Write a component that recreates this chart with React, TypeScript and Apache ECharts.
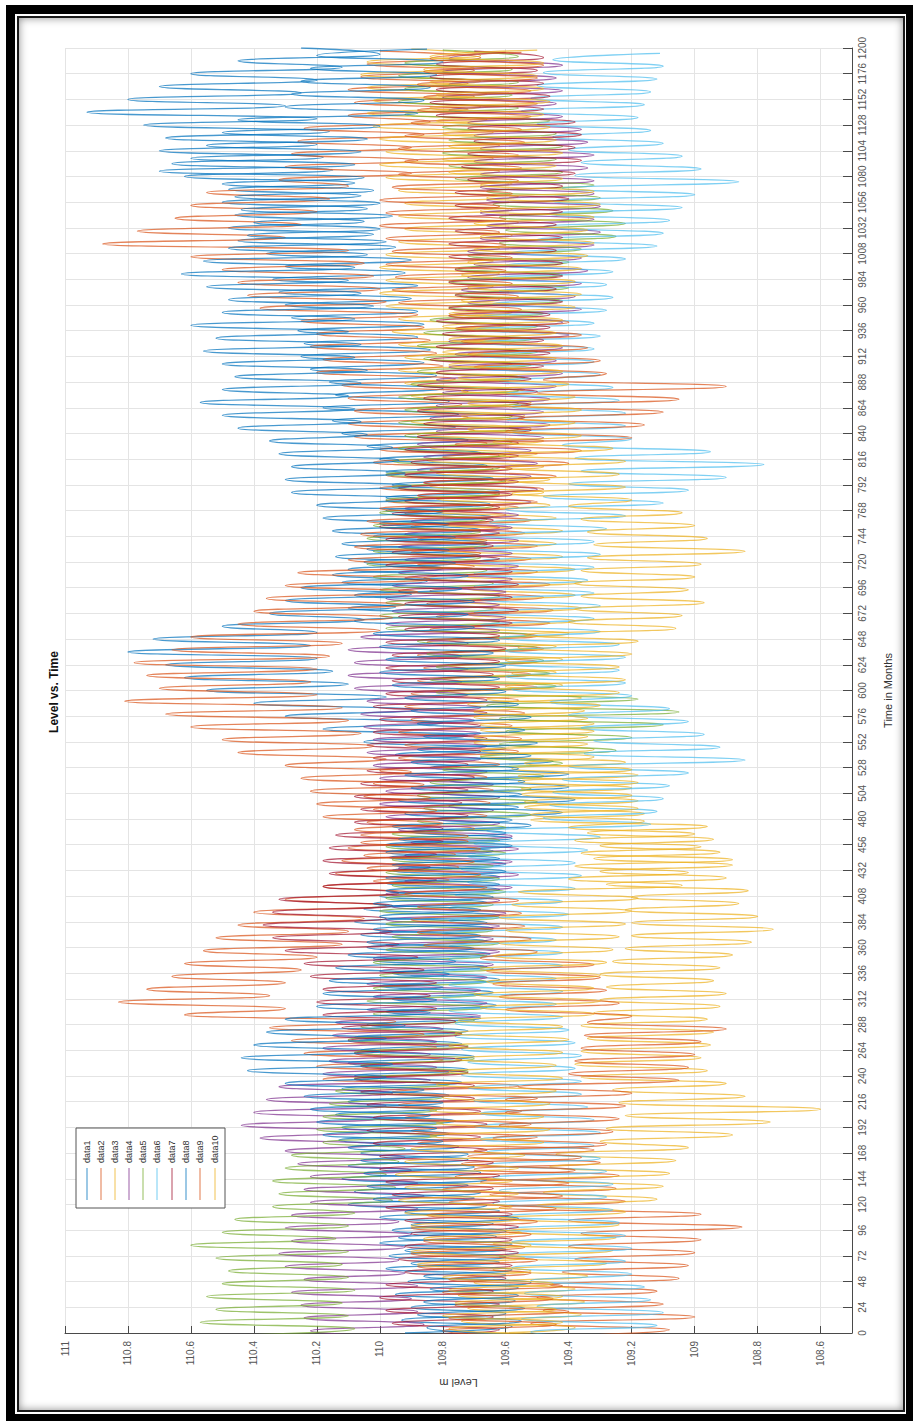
import React, { useEffect, useRef } from "react";
import * as echarts from "echarts";

// Sampling grid: one value every 6 months (alternating seasonal high / low)
const months: number[] = Array.from({ length: 201 }, (_, i) => i * 6);

const seriesNames = ["data1", "data2", "data3", "data4", "data5", "data6", "data7", "data8", "data9", "data10"];
const seriesColors = ["#0072BD", "#D95319", "#EDB120", "#7E2F8E", "#77AC30", "#4DBEEE", "#A2142F", "#0072BD", "#D95319", "#EDB120"];
// Seasonal timing of each record, in months
const seriesPhase = [0, -3, -1, -4, -2, -5, -3, -1, -4, -2];

const levelTicks = [108.6, 108.8, 109, 109.2, 109.4, 109.6, 109.8, 110, 110.2, 110.4, 110.6, 110.8, 111];

const data1 = [
  109.92, 109.58, 109.93, 109.6, 109.9, 109.57, 109.95, 109.56, 109.91, 109.6,
  109.98, 109.62, 109.97, 109.6, 110.0, 109.63, 109.96, 109.64, 110.0, 109.62,
  110.1, 109.7, 110.08, 109.72, 110.12, 109.68, 110.1, 109.72, 110.06, 109.75,
  110.13, 109.78, 110.12, 109.76, 110.14, 109.8, 110.1, 109.78, 110.12, 109.74,
  110.08, 109.72, 110.1, 109.7, 110.06, 109.74, 110.08, 109.72, 110.04, 109.68,
  109.98, 109.63, 109.96, 109.64, 110.0, 109.62, 109.96, 109.66, 110.02, 109.65,
  110.04, 109.66, 110.06, 109.64, 110.08, 109.62, 110.05, 109.66, 110.0, 109.62,
  109.98, 109.62, 109.96, 109.6, 109.97, 109.64, 109.98, 109.58, 109.9, 109.52,
  109.82, 109.42, 109.78, 109.38, 109.8, 109.4, 109.78, 109.4, 109.84, 109.45,
  109.95, 109.6, 110.05, 109.72, 110.18, 109.8, 110.3, 109.88, 110.4, 109.98,
  110.55, 110.1, 110.62, 110.15, 110.68, 110.2, 110.8, 110.22, 110.72, 110.2,
  110.5, 110.05, 110.35, 109.95, 110.3, 109.9, 110.25, 109.85, 110.15, 109.8,
  110.05, 109.68, 110.04, 109.66, 110.02, 109.68, 110.0, 109.64, 109.98, 109.65,
  109.98, 109.62, 109.96, 109.64, 109.98, 109.66, 110.0, 109.68, 110.04, 109.72,
  110.12, 109.76, 110.15, 109.75, 110.18, 109.78, 110.14, 109.8, 110.16, 109.82,
  110.22, 109.86, 110.25, 109.84, 110.24, 109.88, 110.26, 109.86, 110.28, 109.88,
  110.3, 109.9, 110.32, 109.88, 110.34, 109.92, 110.3, 109.9, 110.36, 109.95,
  110.45, 110.02, 110.48, 110.05, 110.46, 110.04, 110.5, 110.06, 110.48, 110.08,
  110.62, 110.15, 110.66, 110.18, 110.7, 110.2, 110.68, 110.16, 110.75, 110.2,
  110.93, 110.3, 110.8, 110.25, 110.7, 110.2, 110.6, 110.12, 110.45, 110.0,
  110.25,
];

const data2 = [
  109.5, 109.08, 109.52, 109.0, 109.48, 109.1, 109.5, 109.12, 109.46, 109.05,
  109.42, 109.02, 109.38, 109.0, 109.4, 108.98, 109.36, 108.85, 109.4, 108.98,
  109.62, 109.22, 109.65, 109.25, 109.68, 109.24, 109.7, 109.3, 109.72, 109.32,
  109.88, 109.5, 109.9, 109.52, 109.92, 109.55, 109.94, 109.5, 109.96, 109.56,
  110.18, 109.78, 110.2, 109.8, 110.24, 109.82, 110.28, 109.86, 110.35, 109.95,
  110.62, 110.3, 110.83, 110.35, 110.74, 110.3, 110.66, 110.25, 110.62, 110.2,
  110.56, 110.12, 110.52, 110.1, 110.45, 110.05, 110.4, 109.98, 110.3, 109.9,
  110.18, 109.78, 110.14, 109.75, 110.12, 109.76, 110.1, 109.72, 110.06, 109.7,
  110.04, 109.66, 110.02, 109.65, 110.05, 109.64, 110.02, 109.66, 110.0, 109.62,
  109.94, 109.56, 109.92, 109.55, 109.94, 109.58, 109.9, 109.54, 109.92, 109.56,
  109.9, 109.5, 109.88, 109.52, 109.86, 109.5, 109.88, 109.48, 109.85, 109.5,
  109.84, 109.46, 109.82, 109.45, 109.85, 109.48, 109.84, 109.46, 109.86, 109.5,
  109.88, 109.52, 109.9, 109.5, 109.88, 109.54, 109.9, 109.52, 109.92, 109.56,
  109.98, 109.62, 110.0, 109.6, 109.98, 109.64, 110.02, 109.62, 110.0, 109.66,
  110.08, 109.7, 110.1, 109.72, 110.08, 109.74, 110.1, 109.72, 110.12, 109.76,
  110.2, 109.8, 110.18, 109.82, 110.22, 109.84, 110.2, 109.86, 110.25, 109.88,
  110.38, 109.98, 110.42, 110.0, 110.45, 110.02, 110.5, 110.05, 110.6, 110.1,
  110.88, 110.3, 110.77, 110.25, 110.65, 110.2, 110.6, 110.16, 110.55, 110.1,
  110.32, 109.9, 110.3, 109.88, 110.28, 109.9, 110.26, 109.86, 110.24, 109.84,
  110.1, 109.72, 110.08, 109.7, 110.1, 109.72, 110.06, 109.7, 110.04, 109.68,
  110.0,
];

const data3 = [
  109.72, 109.38, 109.74, 109.36, 109.72, 109.35, 109.75, 109.38, 109.7, 109.34,
  109.64, 109.28, 109.62, 109.26, 109.64, 109.25, 109.6, 109.24, 109.62, 109.22,
  109.5, 109.12, 109.48, 109.1, 109.5, 109.08, 109.46, 109.06, 109.44, 109.02,
  109.3, 108.88, 109.28, 108.76, 109.22, 108.6, 109.24, 108.84, 109.26, 108.9,
  109.36, 108.96, 109.38, 108.98, 109.36, 108.95, 109.34, 108.94, 109.36, 108.96,
  109.32, 108.92, 109.3, 108.9, 109.28, 108.94, 109.3, 108.92, 109.26, 108.88,
  109.22, 108.82, 109.2, 108.75, 109.2, 108.8, 109.22, 108.86, 109.2, 108.83,
  109.28, 108.9, 109.3, 108.88, 109.32, 108.92, 109.3, 108.94, 109.34, 108.96,
  109.52, 109.16, 109.54, 109.18, 109.55, 109.2, 109.56, 109.18, 109.58, 109.22,
  109.68, 109.32, 109.7, 109.34, 109.68, 109.32, 109.7, 109.35, 109.72, 109.36,
  109.78, 109.42, 109.8, 109.44, 109.78, 109.42, 109.8, 109.44, 109.78, 109.4,
  109.74, 109.38, 109.72, 109.36, 109.74, 109.38, 109.72, 109.36, 109.74, 109.38,
  109.78, 109.42, 109.8, 109.44, 109.78, 109.42, 109.8, 109.44, 109.82, 109.46,
  109.82, 109.48, 109.84, 109.46, 109.82, 109.48, 109.85, 109.5, 109.84, 109.48,
  109.88, 109.52, 109.9, 109.54, 109.88, 109.52, 109.9, 109.54, 109.92, 109.56,
  109.94, 109.58, 109.92, 109.56, 109.94, 109.58, 109.96, 109.6, 109.94, 109.58,
  109.98, 109.62, 110.0, 109.64, 109.98, 109.62, 110.0, 109.64, 109.98, 109.62,
  109.94, 109.58, 109.92, 109.56, 109.94, 109.58, 109.92, 109.56, 109.94, 109.58,
  109.98, 109.62, 110.0, 109.64, 109.98, 109.62, 110.0, 109.64, 110.02, 109.66,
  110.04, 109.68, 110.02, 109.66, 110.04, 109.68, 110.06, 109.7, 110.04, 109.68,
  109.9,
];

const data4 = [
  109.88, 110.22, 109.86, 110.24, 109.88, 110.25, 109.9, 110.28, 109.88, 110.24,
  109.92, 110.3, 109.94, 110.32, 109.92, 110.28, 109.9, 110.3, 109.94, 110.28,
  109.88, 110.22, 109.86, 110.24, 109.88, 110.22, 109.9, 110.26, 109.92, 110.3,
  110.0, 110.38, 110.02, 110.44, 110.0, 110.4, 109.98, 110.36, 109.96, 110.32,
  109.84, 110.18, 109.82, 110.16, 109.84, 110.18, 109.82, 110.15, 109.8, 110.14,
  109.68, 110.04, 109.66, 110.02, 109.68, 110.04, 109.66, 110.0, 109.64, 110.02,
  109.62, 109.98, 109.64, 110.0, 109.62, 109.98, 109.6, 109.96, 109.62, 109.98,
  109.58, 109.92, 109.56, 109.94, 109.58, 109.92, 109.56, 109.9, 109.58, 109.94,
  109.62, 109.98, 109.64, 110.0, 109.62, 109.98, 109.64, 110.0, 109.66, 110.02,
  109.68, 110.04, 109.66, 110.02, 109.68, 110.05, 109.7, 110.06, 109.68, 110.04,
  109.72, 110.08, 109.74, 110.1, 109.72, 110.08, 109.74, 110.1, 109.72, 110.06,
  109.62, 109.98, 109.6, 109.96, 109.62, 109.98, 109.6, 109.96, 109.58, 109.94,
  109.56, 109.92, 109.58, 109.94, 109.56, 109.92, 109.58, 109.9, 109.56, 109.92,
  109.52, 109.88, 109.5, 109.86, 109.52, 109.88, 109.5, 109.86, 109.52, 109.88,
  109.48, 109.82, 109.46, 109.84, 109.48, 109.82, 109.46, 109.8, 109.44, 109.82,
  109.42, 109.78, 109.44, 109.76, 109.42, 109.78, 109.4, 109.76, 109.42, 109.78,
  109.36, 109.72, 109.38, 109.74, 109.36, 109.72, 109.34, 109.7, 109.36, 109.72,
  109.32, 109.68, 109.3, 109.66, 109.32, 109.68, 109.3, 109.66, 109.32, 109.68,
  109.32, 109.68, 109.34, 109.7, 109.32, 109.68, 109.34, 109.7, 109.36, 109.72,
  109.42, 109.78, 109.44, 109.8, 109.42, 109.78, 109.44, 109.8, 109.42, 109.78,
  109.6,
];

const data5 = [
  110.45, 110.08, 110.57, 110.1, 110.52, 110.12, 110.55, 110.08, 110.5, 110.1,
  110.48, 110.12, 110.52, 110.1, 110.6, 110.14, 110.5, 110.1, 110.46, 110.08,
  110.34, 109.96, 110.32, 109.95, 110.34, 109.98, 110.3, 109.94, 110.28, 109.92,
  110.18, 109.82, 110.2, 109.8, 110.18, 109.82, 110.16, 109.8, 110.14, 109.78,
  110.08, 109.72, 110.06, 109.7, 110.08, 109.72, 110.1, 109.74, 110.06, 109.7,
  110.02, 109.66, 110.04, 109.68, 110.02, 109.66, 110.0, 109.64, 110.02, 109.66,
  109.98, 109.62, 109.96, 109.64, 109.98, 109.62, 110.0, 109.64, 109.98, 109.6,
  109.96, 109.62, 109.98, 109.64, 109.96, 109.6, 109.98, 109.62, 109.96, 109.6,
  109.88, 109.52, 109.86, 109.5, 109.88, 109.52, 109.84, 109.48, 109.8, 109.42,
  109.68, 109.25, 109.62, 109.2, 109.6, 109.1, 109.62, 109.05, 109.66, 109.18,
  109.82, 109.44, 109.84, 109.46, 109.82, 109.48, 109.85, 109.5, 109.88, 109.52,
  109.98, 109.62, 110.0, 109.64, 109.98, 109.62, 110.0, 109.64, 110.02, 109.66,
  110.04, 109.68, 110.02, 109.66, 110.04, 109.68, 110.02, 109.66, 110.0, 109.64,
  109.98, 109.62, 109.96, 109.6, 109.98, 109.62, 109.96, 109.6, 109.94, 109.58,
  109.92, 109.56, 109.94, 109.58, 109.92, 109.56, 109.94, 109.56, 109.9, 109.54,
  109.88, 109.52, 109.86, 109.5, 109.88, 109.52, 109.86, 109.5, 109.84, 109.48,
  109.78, 109.42, 109.76, 109.4, 109.78, 109.42, 109.76, 109.4, 109.72, 109.36,
  109.62, 109.25, 109.6, 109.22, 109.62, 109.26, 109.64, 109.3, 109.66, 109.32,
  109.76, 109.42, 109.78, 109.44, 109.8, 109.42, 109.78, 109.44, 109.8, 109.46,
  109.92, 109.56, 109.94, 109.58, 109.92, 109.56, 109.94, 109.58, 109.92, 109.56,
  109.8,
];

const data6 = [
  109.15, 109.52, 109.12, 109.55, 109.1, 109.5, 109.14, 109.54, 109.16, 109.52,
  109.2, 109.58, 109.22, 109.6, 109.2, 109.58, 109.22, 109.6, 109.24, 109.6,
  109.26, 109.64, 109.28, 109.62, 109.26, 109.64, 109.28, 109.66, 109.3, 109.66,
  109.32, 109.68, 109.3, 109.7, 109.32, 109.68, 109.34, 109.7, 109.36, 109.72,
  109.36, 109.74, 109.38, 109.72, 109.36, 109.74, 109.38, 109.76, 109.4, 109.76,
  109.42, 109.78, 109.44, 109.8, 109.42, 109.78, 109.44, 109.8, 109.42, 109.78,
  109.42, 109.78, 109.44, 109.8, 109.42, 109.78, 109.4, 109.78, 109.42, 109.76,
  109.38, 109.72, 109.36, 109.74, 109.38, 109.72, 109.34, 109.7, 109.3, 109.66,
  109.14, 109.48, 109.12, 109.46, 109.1, 109.45, 109.08, 109.42, 109.02, 109.4,
  108.84, 109.35, 108.92, 109.32, 108.97, 109.36, 109.02, 109.4, 109.08, 109.46,
  109.2, 109.58, 109.22, 109.6, 109.24, 109.62, 109.22, 109.6, 109.24, 109.62,
  109.3, 109.68, 109.32, 109.7, 109.3, 109.68, 109.32, 109.7, 109.34, 109.7,
  109.32, 109.68, 109.3, 109.7, 109.32, 109.68, 109.28, 109.65, 109.22, 109.6,
  109.1, 109.48, 109.02, 109.4, 108.9, 109.36, 108.78, 109.38, 108.95, 109.42,
  109.2, 109.58, 109.22, 109.6, 109.22, 109.58, 109.24, 109.6, 109.26, 109.62,
  109.3, 109.68, 109.32, 109.7, 109.32, 109.68, 109.3, 109.7, 109.32, 109.68,
  109.28, 109.64, 109.26, 109.62, 109.28, 109.64, 109.26, 109.6, 109.22, 109.58,
  109.12, 109.5, 109.1, 109.48, 109.08, 109.46, 109.04, 109.45, 109.0, 109.42,
  108.86, 109.38, 108.98, 109.36, 109.04, 109.4, 109.1, 109.45, 109.14, 109.5,
  109.18, 109.55, 109.16, 109.52, 109.14, 109.5, 109.12, 109.48, 109.1, 109.45,
  109.11,
];

const data7 = [
  109.98, 109.62, 109.96, 109.64, 109.98, 109.62, 110.0, 109.64, 109.98, 109.6,
  109.92, 109.58, 109.94, 109.56, 109.92, 109.58, 109.9, 109.56, 109.92, 109.58,
  109.98, 109.62, 109.96, 109.64, 109.98, 109.62, 110.0, 109.64, 110.0, 109.66,
  110.02, 109.68, 110.04, 109.66, 110.02, 109.68, 110.04, 109.7, 110.06, 109.7,
  110.08, 109.72, 110.06, 109.74, 110.08, 109.72, 110.1, 109.74, 110.12, 109.76,
  110.18, 109.82, 110.2, 109.84, 110.18, 109.82, 110.22, 109.86, 110.24, 109.88,
  110.3, 109.94, 110.34, 109.96, 110.37, 109.98, 110.34, 109.96, 110.32, 109.94,
  110.18, 109.82, 110.16, 109.84, 110.18, 109.82, 110.16, 109.8, 110.14, 109.8,
  110.08, 109.72, 110.06, 109.74, 110.08, 109.72, 110.06, 109.7, 110.04, 109.72,
  110.02, 109.68, 110.04, 109.66, 110.02, 109.68, 110.0, 109.66, 110.02, 109.66,
  109.98, 109.62, 109.96, 109.64, 109.98, 109.62, 109.96, 109.6, 109.98, 109.62,
  109.92, 109.58, 109.94, 109.56, 109.92, 109.58, 109.94, 109.56, 109.92, 109.58,
  109.98, 109.62, 109.96, 109.64, 109.98, 109.62, 110.0, 109.64, 109.96, 109.62,
  109.92, 109.58, 109.94, 109.56, 109.92, 109.58, 109.9, 109.56, 109.92, 109.56,
  109.88, 109.52, 109.86, 109.54, 109.88, 109.52, 109.86, 109.5, 109.88, 109.52,
  109.82, 109.48, 109.84, 109.46, 109.82, 109.48, 109.8, 109.46, 109.82, 109.46,
  109.78, 109.42, 109.76, 109.44, 109.78, 109.42, 109.76, 109.42, 109.78, 109.44,
  109.78, 109.42, 109.76, 109.44, 109.78, 109.42, 109.76, 109.4, 109.76, 109.42,
  109.72, 109.38, 109.74, 109.36, 109.72, 109.38, 109.7, 109.36, 109.72, 109.38,
  109.82, 109.48, 109.84, 109.46, 109.82, 109.48, 109.84, 109.5, 109.82, 109.48,
  109.7,
];

const data8 = [
  109.6, 109.85, 109.55, 109.88, 109.54, 109.86, 109.56, 109.84, 109.52, 109.86,
  109.58, 109.9, 109.6, 109.92, 109.58, 109.94, 109.6, 109.9, 109.56, 109.92,
  109.66, 110.02, 109.68, 110.04, 109.66, 110.05, 109.7, 110.06, 109.72, 110.1,
  109.8, 110.18, 109.82, 110.2, 109.84, 110.22, 109.8, 110.24, 109.86, 110.3,
  109.98, 110.42, 109.96, 110.44, 110.0, 110.4, 109.98, 110.36, 109.92, 110.3,
  109.84, 110.2, 109.82, 110.18, 109.8, 110.16, 109.78, 110.14, 109.76, 110.1,
  109.7, 110.04, 109.68, 110.02, 109.66, 110.0, 109.68, 110.02, 109.64, 109.98,
  109.62, 109.98, 109.6, 109.96, 109.62, 109.98, 109.58, 109.94, 109.6, 109.96,
  109.58, 109.92, 109.56, 109.94, 109.55, 109.9, 109.54, 109.92, 109.56, 109.9,
  109.52, 109.88, 109.5, 109.86, 109.54, 109.88, 109.52, 109.9, 109.56, 109.92,
  109.6, 109.96, 109.62, 110.0, 109.6, 109.98, 109.64, 110.0, 109.62, 110.02,
  109.7, 110.08, 109.72, 110.1, 109.7, 110.08, 109.74, 110.12, 109.72, 110.1,
  109.76, 110.14, 109.78, 110.12, 109.76, 110.15, 109.78, 110.18, 109.8, 110.2,
  109.88, 110.28, 109.9, 110.3, 109.92, 110.28, 109.94, 110.32, 109.96, 110.35,
  110.04, 110.45, 110.06, 110.5, 110.08, 110.57, 110.1, 110.5, 110.06, 110.46,
  110.04, 110.5, 110.08, 110.56, 110.06, 110.52, 110.1, 110.6, 110.08, 110.5,
  110.02, 110.48, 110.06, 110.55, 110.1, 110.63, 110.08, 110.56, 110.04, 110.48,
  109.98, 110.42, 110.0, 110.4, 109.96, 110.44, 110.0, 110.46, 110.02, 110.5,
  110.05, 110.7, 110.08, 110.6, 110.06, 110.55, 110.04, 110.5, 110.0, 110.45,
  109.88, 110.3, 109.86, 110.28, 109.84, 110.25, 109.82, 110.22, 109.8, 110.2,
  109.85,
];

const data9 = [
  109.42, 109.8, 109.44, 109.78, 109.4, 109.76, 109.45, 109.8, 109.42, 109.78,
  109.52, 109.88, 109.5, 109.9, 109.54, 109.86, 109.52, 109.9, 109.5, 109.85,
  109.44, 109.78, 109.42, 109.8, 109.4, 109.76, 109.38, 109.74, 109.36, 109.7,
  109.28, 109.64, 109.26, 109.62, 109.24, 109.6, 109.22, 109.6, 109.2, 109.56,
  109.05, 109.4, 109.02, 109.38, 109.0, 109.36, 108.98, 109.35, 108.9, 109.34,
  109.2, 109.6, 109.24, 109.62, 109.28, 109.64, 109.3, 109.66, 109.32, 109.68,
  109.5, 109.86, 109.52, 109.88, 109.54, 109.9, 109.55, 109.88, 109.56, 109.92,
  109.66, 110.02, 109.68, 110.04, 109.7, 110.05, 109.68, 110.06, 109.72, 110.08,
  109.8, 110.18, 109.82, 110.2, 109.84, 110.22, 109.86, 110.25, 109.9, 110.3,
  109.98, 110.45, 110.02, 110.5, 110.06, 110.6, 110.1, 110.68, 110.12, 110.81,
  110.2, 110.7, 110.22, 110.74, 110.2, 110.78, 110.16, 110.66, 110.12, 110.6,
  110.0, 110.45, 109.96, 110.4, 109.92, 110.36, 109.88, 110.3, 109.84, 110.26,
  109.7, 110.1, 109.68, 110.08, 109.66, 110.06, 109.62, 110.04, 109.6, 110.0,
  109.5, 109.88, 109.48, 109.86, 109.44, 109.84, 109.4, 109.8, 109.36, 109.76,
  109.2, 109.6, 109.16, 109.56, 109.1, 109.55, 109.05, 109.5, 108.9, 109.48,
  109.28, 109.7, 109.3, 109.72, 109.34, 109.74, 109.36, 109.76, 109.4, 109.78,
  109.55, 109.94, 109.56, 109.96, 109.58, 109.95, 109.6, 109.98, 109.58, 109.96,
  109.6, 109.98, 109.62, 110.0, 109.6, 109.98, 109.62, 110.0, 109.58, 109.96,
  109.56, 109.94, 109.55, 109.92, 109.56, 109.94, 109.54, 109.92, 109.55, 109.9,
  109.52, 109.88, 109.5, 109.86, 109.52, 109.88, 109.5, 109.86, 109.48, 109.84,
  109.55,
];

const data10 = [
  109.44, 109.78, 109.42, 109.8, 109.44, 109.76, 109.42, 109.78, 109.45, 109.8,
  109.52, 109.88, 109.54, 109.9, 109.52, 109.86, 109.55, 109.9, 109.56, 109.92,
  109.58, 109.94, 109.56, 109.92, 109.58, 109.95, 109.56, 109.92, 109.54, 109.9,
  109.48, 109.84, 109.46, 109.82, 109.48, 109.84, 109.46, 109.8, 109.44, 109.82,
  109.42, 109.78, 109.44, 109.76, 109.42, 109.78, 109.4, 109.76, 109.42, 109.75,
  109.32, 109.68, 109.3, 109.7, 109.32, 109.66, 109.3, 109.68, 109.28, 109.64,
  109.26, 109.62, 109.24, 109.6, 109.22, 109.62, 109.2, 109.58, 109.18, 109.56,
  109.04, 109.4, 109.02, 109.38, 108.88, 109.36, 108.98, 109.38, 109.0, 109.4,
  109.16, 109.52, 109.18, 109.54, 109.2, 109.55, 109.18, 109.56, 109.2, 109.54,
  109.32, 109.68, 109.34, 109.7, 109.32, 109.68, 109.34, 109.7, 109.3, 109.66,
  109.24, 109.6, 109.22, 109.58, 109.24, 109.6, 109.2, 109.56, 109.18, 109.54,
  109.06, 109.4, 109.04, 109.38, 108.97, 109.36, 109.02, 109.38, 109.0, 109.36,
  108.98, 109.34, 108.84, 109.32, 108.96, 109.34, 109.0, 109.36, 109.04, 109.4,
  109.2, 109.58, 109.22, 109.6, 109.24, 109.6, 109.22, 109.62, 109.26, 109.64,
  109.36, 109.72, 109.38, 109.74, 109.36, 109.72, 109.38, 109.74, 109.4, 109.75,
  109.42, 109.78, 109.44, 109.8, 109.42, 109.78, 109.44, 109.8, 109.42, 109.78,
  109.38, 109.74, 109.36, 109.72, 109.38, 109.74, 109.36, 109.72, 109.34, 109.7,
  109.32, 109.68, 109.34, 109.7, 109.32, 109.68, 109.3, 109.66, 109.32, 109.68,
  109.42, 109.78, 109.44, 109.8, 109.42, 109.78, 109.44, 109.8, 109.46, 109.82,
  109.48, 109.84, 109.46, 109.82, 109.48, 109.84, 109.5, 109.86, 109.48, 109.84,
  109.5,
];

const seriesData = [data1, data2, data3, data4, data5, data6, data7, data8, data9, data10];

const FONT = "Liberation Sans, Arial, Helvetica, sans-serif";
const AXIS_COLOR = "#4a4a4a";
const GRID_COLOR = "#e4e4e4";

export default function App() {
  const ref = useRef<HTMLDivElement>(null);

  useEffect(() => {
    if (!ref.current) return;
    const chart = echarts.init(ref.current, undefined, { renderer: "svg" });

    const series = seriesNames.map((name, k) => ({
      name,
      type: "line",
      data: months.map((m, i) => [seriesData[k][i], m + seriesPhase[k]]),
      showSymbol: false,
      symbol: "none",
      smooth: 0.55,
      smoothMonotone: "y",
      clip: true,
      lineStyle: { color: seriesColors[k], width: 1.3, opacity: 0.72 },
      itemStyle: { color: seriesColors[k] },
      silent: true,
    }));

    // Legend drawn by hand so its texts can be turned like the axes
    const legendX = [87, 101, 115, 129, 143, 157, 172, 186, 200, 215];
    const legendItems: any[] = [
      {
        type: "rect",
        shape: { x: 76, y: 1128, width: 149, height: 80 },
        style: { fill: "#ffffff", stroke: "#555555", lineWidth: 1 },
        z: 100,
      },
    ];
    seriesNames.forEach((name, k) => {
      legendItems.push({
        type: "line",
        shape: { x1: legendX[k], y1: 1168, x2: legendX[k], y2: 1200 },
        style: { stroke: seriesColors[k], lineWidth: 1.2, opacity: 0.65 },
        z: 101,
      });
      legendItems.push({
        type: "text",
        x: legendX[k],
        y: 1163,
        rotation: Math.PI / 2,
        style: {
          text: name,
          fontSize: 9,
          fontFamily: FONT,
          fill: "#333333",
          textAlign: "left",
          textVerticalAlign: "middle",
        },
        z: 101,
      });
    });

    chart.setOption({
      animation: false,
      backgroundColor: "transparent",
      grid: { left: 65, right: 61, top: 48, bottom: 88, outerBoundsMode: "none", containLabel: false },
      xAxis: {
        type: "value",
        inverse: true,
        min: 108.5,
        max: 111,
        position: "bottom",
        name: "Level m",
        nameLocation: "middle",
        nameGap: 44,
        nameRotate: 180,
        nameTextStyle: { fontSize: 11, fontFamily: FONT, color: "#333333" },
        axisLine: { show: true, lineStyle: { color: AXIS_COLOR, width: 1 } },
        axisTick: { show: true, inside: true, length: 7, customValues: levelTicks, lineStyle: { color: AXIS_COLOR } },
        axisLabel: {
          rotate: 90,
          margin: 8,
          fontSize: 10,
          fontFamily: FONT,
          color: "#555555",
          customValues: levelTicks,
          formatter: (v: number) => String(Math.round(v * 10) / 10),
        },
        splitLine: { show: true, lineStyle: { color: GRID_COLOR, width: 1 } },
      },
      yAxis: {
        type: "value",
        position: "right",
        min: 0,
        max: 1200,
        interval: 24,
        name: "Time in Months",
        nameLocation: "middle",
        nameGap: 30,
        nameRotate: 90,
        nameTextStyle: { fontSize: 11, fontFamily: FONT, color: "#333333" },
        axisLine: { show: true, lineStyle: { color: AXIS_COLOR, width: 1 } },
        axisTick: { show: true, inside: true, length: 9, lineStyle: { color: AXIS_COLOR } },
        axisLabel: {
          rotate: 90,
          margin: 5,
          fontSize: 10,
          fontFamily: FONT,
          color: "#555555",
          formatter: (v: number) => String(Math.round(v)),
        },
        splitLine: { show: true, lineStyle: { color: GRID_COLOR, width: 1 } },
      },
      graphic: [
        {
          type: "text",
          x: 54,
          y: 692,
          rotation: Math.PI / 2,
          style: {
            text: "Level vs. Time",
            fontSize: 12,
            fontWeight: "bold",
            fontFamily: FONT,
            fill: "#111111",
            textAlign: "center",
            textVerticalAlign: "middle",
          },
        },
        ...legendItems,
      ],
      series,
    });

    return () => chart.dispose();
  }, []);

  return (
    <div
      style={{
        position: "fixed",
        left: 0,
        top: 0,
        width: 913,
        height: 1421,
        background: "#ffffff",
        overflow: "hidden",
      }}
    >
      <div
        style={{
          position: "absolute",
          left: 6,
          top: 5,
          width: 909,
          height: 1418,
          border: "9px solid #000000",
          boxSizing: "border-box",
        }}
      />
      <div
        style={{
          position: "absolute",
          left: 17,
          top: 16,
          width: 888,
          height: 1396,
          border: "2px solid #1a1a1a",
          boxSizing: "border-box",
          boxShadow: "inset 0 0 9px rgba(0,0,0,0.45)",
        }}
      />
      <div ref={ref} style={{ position: "absolute", left: 0, top: 0, width: 913, height: 1421 }} />
    </div>
  );
}
